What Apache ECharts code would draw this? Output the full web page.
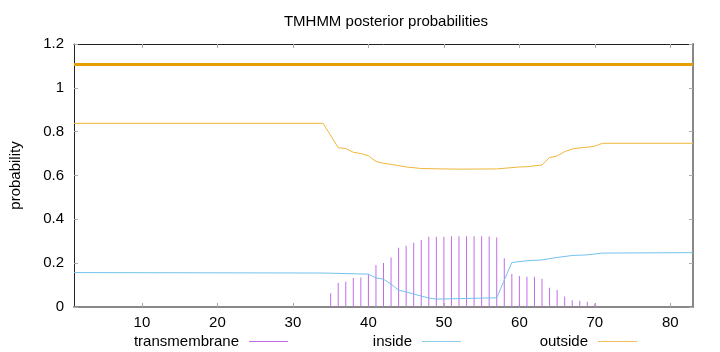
<!DOCTYPE html>
<html><head><meta charset="utf-8">
<script src="https://cdn.jsdelivr.net/npm/echarts@6/dist/echarts.min.js"></script>
<style>html,body{margin:0;padding:0;background:#fff}#c{width:720px;height:352px}</style>
</head><body><div id="c"></div>
<script>
const tmX = [35,36,37,38,39,40,41,42,43,44,45,46,47,48,49,50,51,52,53,54,55,56,57,58,59,60,61,62,63,64,65,66,67,68,69,70,71];
const tmY = [0.063,0.109,0.115,0.132,0.135,0.150,0.192,0.201,0.226,0.270,0.279,0.293,0.306,0.320,0.321,0.321,0.323,0.323,0.323,0.323,0.323,0.322,0.317,0.223,0.151,0.142,0.138,0.138,0.129,0.088,0.077,0.048,0.031,0.028,0.024,0.016,0.002];
const inX = [1,34,40,41,42,43,44,45,46,48,49,57,59,61,63,65,67,69,71,83];
const inY = [0.157,0.155,0.150,0.133,0.127,0.104,0.077,0.069,0.059,0.041,0.036,0.042,0.203,0.211,0.215,0.226,0.235,0.238,0.246,0.248];
const outX = [1,34,36,37,38,39,40,41,42,44,45,47,50,52,57,60,61,63,64,65,66,67,68,69,70,71,83];
const outY = [0.838,0.838,0.727,0.723,0.706,0.700,0.690,0.664,0.656,0.645,0.639,0.632,0.630,0.629,0.630,0.639,0.640,0.648,0.682,0.689,0.709,0.721,0.726,0.729,0.734,0.747,0.747];
const topX = [1,83];
const topY = [1.106,1.106];
const xTicks = [10,20,30,40,50,60,70,80];
const names = ['transmembrane','inside','outside'];
const title = 'TMHMM posterior probabilities';
const yName = 'probability';

const zip = (a,b) => a.map((v,i)=>[v,b[i]]);
const F = 'Liberation Sans';
const chart = echarts.init(document.getElementById('c'), null, {renderer:'canvas'});
const legendBase = (name, right) => ({
  data:[name], top:334, right:right, padding:0, align:'right', itemWidth:39, itemHeight:1,
  icon:'rect', textStyle:{fontFamily:F, fontSize:15, color:'#000', padding:[0,5,0,0]}, selectedMode:false
});
chart.setOption({
  animation:false,
  title:{text:title, left:381, textAlign:'center', top:9, textStyle:{fontFamily:F, fontSize:15, fontWeight:'normal', color:'#000'}},
  grid:{left:73, right:27, top:44, bottom:45, show:false},
  legend:[legendBase(names[0],432), legendBase(names[1],259), legendBase(names[2],83)],
  xAxis:[
    {type:'value', min:1, max:83, position:'bottom',
     axisLine:{show:true, onZero:false, lineStyle:{color:'#888', width:2}},
     axisTick:{show:true, inside:true, length:4, customValues:xTicks, lineStyle:{color:'#aaa'}},
     axisLabel:{show:true, customValues:xTicks, margin:8, fontFamily:F, fontSize:15, color:'#000'},
     splitLine:{show:false}},
    {type:'value', min:1, max:83, position:'top',
     axisLine:{show:true, onZero:false, lineStyle:{color:'#222', width:1}},
     axisTick:{show:true, inside:true, length:4, customValues:xTicks, lineStyle:{color:'#aaa'}},
     axisLabel:{show:false, customValues:xTicks}, splitLine:{show:false}}
  ],
  yAxis:[
    {type:'value', min:0, max:1.2, interval:0.2, position:'left',
     name:yName, nameLocation:'middle', nameGap:51, nameTextStyle:{fontFamily:F, fontSize:15, color:'#000'},
     axisLine:{show:true, onZero:false, lineStyle:{color:'#222', width:1}},
     axisTick:{show:true, inside:true, length:4, lineStyle:{color:'#aaa'}},
     axisLabel:{margin:10, fontFamily:F, fontSize:15, color:'#000'}, splitLine:{show:false}},
    {type:'value', min:0, max:1.2, interval:0.2, position:'right',
     axisLine:{show:true, onZero:false, lineStyle:{color:'#888', width:2}},
     axisTick:{show:true, inside:true, length:4, lineStyle:{color:'#aaa'}},
     axisLabel:{show:false}, splitLine:{show:false}}
  ],
  series:[
    {name:names[0], type:'bar', xAxisIndex:0, yAxisIndex:0, barWidth:1, data:zip(tmX,tmY), itemStyle:{color:'#c06cea'}, z:3},
    {name:names[1], type:'line', data:zip(inX,inY), symbol:'none', lineStyle:{width:1, color:'#72c2ee'}, itemStyle:{color:'#8ccbec'}, z:4},
    {name:names[2], type:'line', data:zip(outX,outY), symbol:'none', lineStyle:{width:1, color:'#efb73a'}, itemStyle:{color:'#f0c060'}, z:4},
    {name:'top', type:'line', data:zip(topX,topY), symbol:'none', lineStyle:{width:3, color:'#e69f00'}, z:5}
  ]
});
</script></body></html>
